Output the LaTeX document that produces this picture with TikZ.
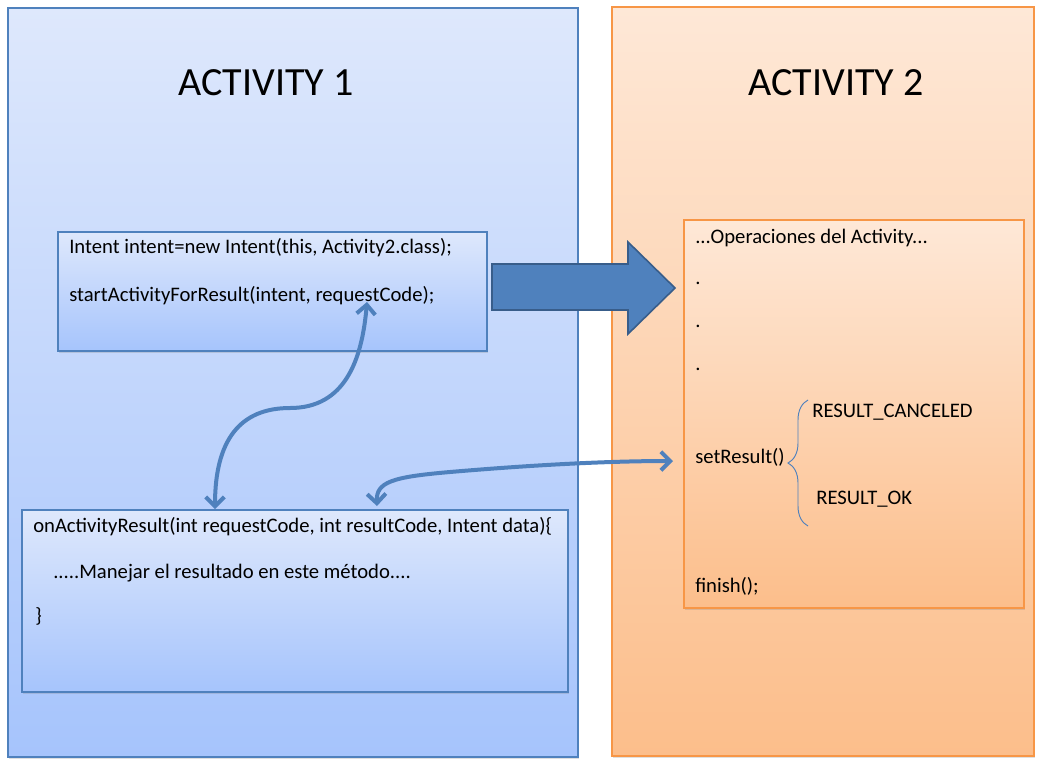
\documentclass[tikz,border=0pt]{standalone}
\usepackage{fontspec}
\setmainfont{Carlito}
\usetikzlibrary{arrows.meta}
\usetikzlibrary{shadows}
\usetikzlibrary{decorations.pathreplacing}
\definecolor{actblue}{HTML}{4F81BD}
\definecolor{actbluedark}{HTML}{385D8A}
\definecolor{actorange}{HTML}{F79646}
\definecolor{bluetop}{HTML}{DEE8FC}
\definecolor{bluebot}{HTML}{A6C4FC}
\definecolor{orangetop}{HTML}{FEE8D7}
\definecolor{orangebot}{HTML}{FCBE8B}

\begin{document}
\begin{tikzpicture}[x=0.75pt, y=-0.75pt,
    bluepanel/.style={draw=actblue, line width=0.8pt, top color=bluetop, bottom color=bluebot,
      drop shadow={opacity=0.25, shadow xshift=1pt, shadow yshift=-1.5pt}},
    orangepanel/.style={draw=actorange, line width=0.8pt, top color=orangetop, bottom color=orangebot,
      drop shadow={opacity=0.25, shadow xshift=1pt, shadow yshift=-1.5pt}},
    codetxt/.style={anchor=west, inner sep=0pt, font=\fontsize{15.5}{18}\selectfont},
    titletxt/.style={inner sep=0pt, font=\fontsize{30}{36}\selectfont},
    curvearrow/.style={draw=actblue, line width=3pt,
      {Straight Barb[length=7pt, width=14pt]}-{Straight Barb[length=7pt, width=14pt]}}]

    \useasboundingbox (0,0) rectangle (1049,765);

    % the two activities
    \draw[bluepanel] (8,8) rectangle (578,757);
    \draw[orangepanel] (612,7) rectangle (1034,756);
    \node[titletxt] (act1) at (266,83) {ACTIVITY 1};
    \node[titletxt] (act2) at (836,83) {ACTIVITY 2};

    % code boxes
    \draw[bluepanel] (58,232) rectangle (487,351);
    \draw[bluepanel] (22,510) rectangle (568,692);
    \draw[orangepanel] (684,220) rectangle (1024,608);

    \node[codetxt] (intent) at (69,248) {Intent intent=new Intent(this, Activity2.class);};
    \node[codetxt] (start) at (69,296) {startActivityForResult(intent, requestCode);};

    \node[codetxt] (onres) at (33,527)
      {onActivityResult(int requestCode, int resultCode, Intent data)\{};
    \node[codetxt] (manejar) at (53,573)
      {.....Manejar el resultado en este método....};
    \node[codetxt] (close) at (35,616) {\}};

    \node[codetxt] (ops) at (695,238) {...Operaciones del Activity...};
    \foreach \y in {283,326,369}
      \node[codetxt] (dot\y) at (695,\y) {.};
    \node[codetxt] (setres) at (695,457) {setResult()};
    \node[codetxt] (cancel) at (812,412) {RESULT\_CANCELED};
    \node[codetxt] (ok) at (816,499) {RESULT\_OK};
    \node[codetxt] (finish) at (695,586) {finish();};
    \draw[actblue, line width=0.7pt, decorate, decoration={brace, amplitude=15pt}]
      (808,526) -- (808,400);

    % big arrow
    \draw[fill=actblue, draw=actbluedark, line width=1.2pt]
      (492,264) -- (628,264) -- (628,242) -- (675,288) -- (628,334) -- (628,310) -- (492,310) -- cycle;

    % connectors
    \coordinate (reqtop) at (367,302);
    \coordinate (reqbot) at (215,509);
    \coordinate (resbot) at (377,506);
    \coordinate (setin) at (673,461);
    \draw[curvearrow] (reqbot) .. controls (215,440) and (240,408) .. (290,408)
      .. controls (345,408) and (362,360) .. (reqtop);
    \draw[curvearrow] (resbot) .. controls (376,482) and (392,477) .. (450,472)
      .. controls (520,466) and (600,461) .. (setin);

  \end{tikzpicture}
\end{document}
